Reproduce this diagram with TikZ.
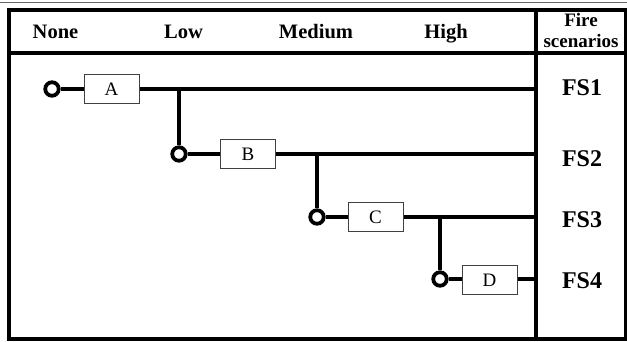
\documentclass[tikz,border=0pt]{standalone}
\usepackage{fontspec}
\setmainfont{Liberation Serif}
\begin{document}
\begin{tikzpicture}[x=1pt,y=-1pt,
  heavy/.style={line width=4pt},
  evbox/.style={draw=black!75, line width=1pt, fill=white, minimum width=55pt, minimum height=29pt, inner sep=0pt, font=\fontsize{19}{21}\selectfont},
  startpt/.style={circle, draw=black, line width=3.8pt, fill=white, minimum size=13.5pt, inner sep=0pt},
  head/.style={font=\fontsize{20.5}{24}\selectfont\bfseries, inner sep=0pt, anchor=base},
  fs/.style={font=\fontsize{24}{26}\selectfont\bfseries, inner sep=0pt, anchor=base}]
\useasboundingbox (0,0) rectangle (627,342);
% thin top line
\draw[black!60, line width=0.8pt] (0,2.5) -- (627,2.5);
% frame
\draw[heavy] (8.5,10) rectangle (626,338.5);
\draw[heavy] (8.5,53) -- (626,53);
\draw[heavy] (536,10) -- (536,338.5);
% header
\node[head] (hnone) at (55.5,39) {None};
\node[head] (hlow) at (183.5,39) {Low};
\node[head] (hmed) at (316,39) {Medium};
\node[head] (hhigh) at (446,39) {High};
\node[head, font=\fontsize{19}{22}\selectfont\bfseries] (hfire) at (581,26.5) {Fire};
\node[head, font=\fontsize{19}{22}\selectfont\bfseries] (hscen) at (581,47.5) {scenarios};
% scenario labels
\node[fs] (fs1) at (582,96) {FS1};
\node[fs] (fs2) at (582,167) {FS2};
\node[fs] (fs3) at (582,227) {FS3};
\node[fs] (fs4) at (582,288) {FS4};
% events
\node[startpt] (s1) at (52,89) {};
\node[evbox] (A) at (111.5,89.5) {A};
\node[startpt] (s2) at (179,154) {};
\node[evbox] (B) at (248,154) {B};
\node[startpt] (s3) at (317,217) {};
\node[evbox] (C) at (375.5,217) {C};
\node[startpt] (s4) at (440,279) {};
\node[evbox] (D) at (489.5,280) {D};
% line ends and branch points
\coordinate (e1) at (536,89);
\coordinate (e2) at (536,154);
\coordinate (e3) at (536,217);
\coordinate (e4) at (536,279);
\coordinate (b1) at (179,89);
\coordinate (b2) at (317,154);
\coordinate (b3) at (440,217);
% connectors
\draw[heavy] (s1) -- (A.west |- s1);
\draw[heavy] (A.east |- e1) -- (e1);
\draw[heavy] (b1) -- (s2.north);
\draw[heavy] (s2) -- (B);
\draw[heavy] (B) -- (e2);
\draw[heavy] (b2) -- (s3.north);
\draw[heavy] (s3) -- (C);
\draw[heavy] (C) -- (e3);
\draw[heavy] (b3) -- (s4.north);
\draw[heavy] (s4) -- (D.west |- s4);
\draw[heavy] (D.east |- e4) -- (e4);
\end{tikzpicture}
\end{document}
